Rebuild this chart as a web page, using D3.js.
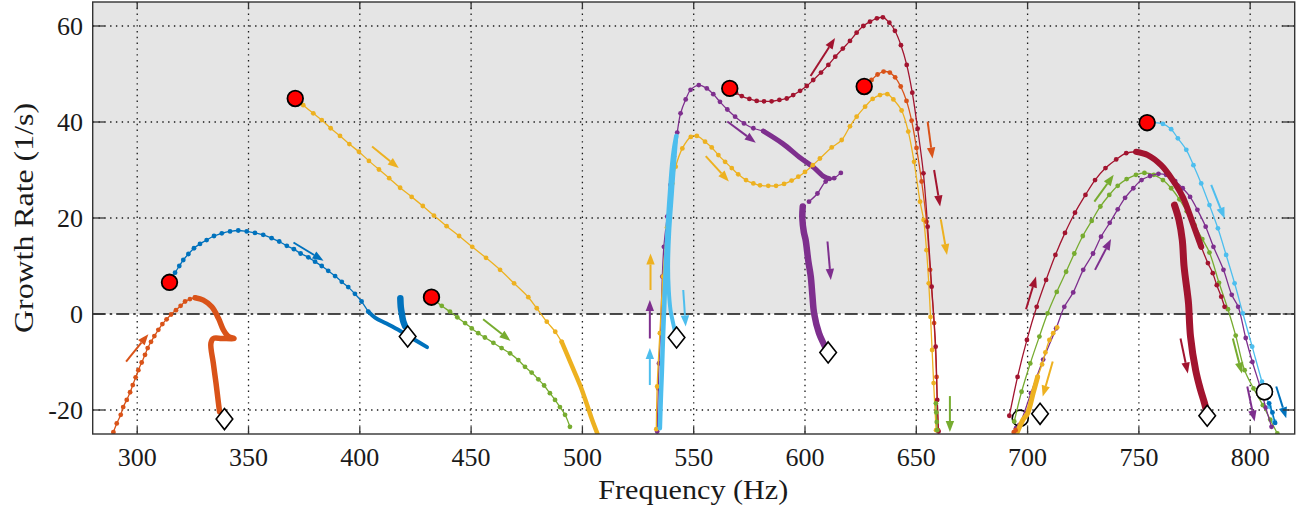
<!DOCTYPE html>
<html><head><meta charset="utf-8">
<script src="https://cdn.jsdelivr.net/npm/d3@7"></script>
<style>
html,body{margin:0;padding:0;background:#fff;}
svg{display:block;}
text{font-family:"Liberation Serif","Times New Roman",serif;fill:#1a1a1a;}
</style></head>
<body><svg id="chart" width="1311" height="510"></svg>
<script>
// ---------- axis ticks ----------
const xTicks = [300, 350, 400, 450, 500, 550, 600, 650, 700, 750, 800];
const yTicks = [-20, 0, 20, 40, 60];
const xLabel = "Frequency (Hz)";
const yLabel = "Growth Rate (1/s)";

// ---------- series (frequency Hz, growth rate 1/s) ----------
// group 1 (290-510 Hz)
const orangeLowRise = [[289.3,-24.6],[290.8,-22.8],[292.6,-21.0],[293.7,-19.4],[295.3,-17.9],[296.8,-16.3],[298,-14.8],[299.3,-13.2],[300.5,-11.7],[302,-10.1],[303.5,-8.5],[304.7,-7.1],[306.2,-5.8],[307.7,-4.6],[309.5,-3.3],[311.3,-2.1],[313.2,-1.1],[315.2,-0.1],[317.4,0.8],[319.5,1.7],[321.5,2.6],[323.7,3.1],[326,3.4]];
const orangeLowDense = [[326,3.4],[329.7,2.9],[333.5,1.5],[336.5,-0.9],[338.7,-3.3],[341,-4.7],[343.5,-5.1],[338,-5.1],[334.2,-5.1],[333.1,-6.1],[334.2,-10.3],[335.4,-14.4],[336.5,-18.6],[337,-20.4]];
const blueLow = [[314.5,6.6],[317,8.6],[318.9,10.0],[320.7,11.25],[323,12.5],[325.5,13.7],[328.2,14.6],[331.2,15.4],[334.5,16.25],[338,16.8],[341.7,17.2],[345.4,17.4],[349.2,17.2],[352.9,16.9],[356.6,16.5],[360.4,15.8],[363.8,15.1],[367.2,14.2],[370.4,13.5],[373.4,12.6],[376.9,11.8],[379.9,10.9],[382.9,10.0],[385.8,9.0],[388.9,7.9],[391.9,6.7],[394.8,5.6],[397.8,4.2],[400.8,2.6],[403.8,0.5]];
const blueLowDense = [[403.8,0.5],[407,-0.8],[412,-2],[418,-3.5],[424,-5.2],[430.2,-6.9]];
const blueLowBlob = [[418.2,3.3],[418.4,1.5],[418.9,0],[419.5,-1.5],[420.4,-2.6]];
const yellowLow = [[371,44.9],[374.6,43.5],[379.1,41.8],[382.9,40.4],[386.9,38.7],[391.1,37.1],[395.3,35.4],[399.6,33.8],[404.1,31.9],[408.6,30.1],[413.2,28.3],[418.1,26.3],[423.3,24.4],[428.3,22.5],[433.3,20.5],[439,18.3],[444.6,16.25],[450.5,14.0],[456.7,11.7],[463,9.2],[469.3,6.4],[475.7,3.5],[479.5,1.2],[484,-1.6],[487.8,-3.7],[490.7,-5.8]];
const yellowLowDense = [[490.7,-5.8],[495,-10.5],[499.2,-15.1],[502,-18.8],[504.4,-22.1],[506.7,-24.9]];
const greenLow = [[432.2,3.5],[436.8,1.7],[440.5,0.5],[443.8,-0.7],[447.3,-1.9],[450.3,-3.0],[453.2,-4.0],[456.2,-4.9],[460,-6.0],[463.7,-7.1],[467.5,-8.2],[471.2,-9.6],[474.2,-11.0],[477.2,-12.2],[480.2,-13.6],[482.8,-14.9],[485.4,-16.5],[487.7,-17.9],[489.9,-19.4],[492.2,-21.0],[494.4,-23.5]];

// group 2 (530-665 Hz)
const purpleMid = [[533.6,-24.5],[534.1,-15.5],[534.4,-10.3],[535.1,-4.0],[535.9,7.8],[536.6,14],[538.1,20.3],[539.6,26.9],[541.1,32.8],[542.6,37.8],[544.1,41.8],[546.4,44.7],[548.6,46.7],[552.3,47.7],[555.9,47.0],[558.8,45.8],[561.8,44.2],[565.1,42.6],[568.6,41.1],[572.6,39.7],[576.8,38.7],[581.3,38.1]];
const purpleMidDense = [[581.3,38.1],[590,35.5],[598,32.5],[604,30.5],[608.6,28.6],[611,28.2]];
const purpleMidHook = [[616.1,29.4],[613.1,28.3],[609.3,27.6],[605.6,25.1],[601.8,23.4]];
const purpleMidDrop = [[599,22.4],[598.8,20],[599.5,17],[600.3,15.4],[601.5,11],[602.6,7.8],[603.3,4],[604.1,0.1],[606.3,-4],[608.5,-6.3],[610.4,-8.0]];
const yellowMid = [[533.2,-24],[533.6,-15.1],[534.8,-4.0],[536.2,7.8],[538,18],[540.4,27.2],[541.9,30.7],[544.9,34.5],[548.7,36.9],[551.4,37.1],[555.1,35.9],[558.1,34.7],[561.1,33.1],[564.1,31.7],[567.1,30.4],[570,29.1],[573.5,27.9],[576.8,27.2],[579.8,26.8],[583.5,26.7],[587,26.7],[590.6,27.1],[594,27.8],[597,28.6],[600,29.6],[603.5,31.0],[606.7,32.4],[612,34.7],[616.5,36.25],[620.2,39.1],[623.2,41.1],[627,43.2],[630.4,44.8],[633.7,45.6],[637,45.8],[639.7,44.7],[643.4,42.4],[646.4,38.0],[649,31.7],[651.7,23.4],[653.3,19.6],[654.6,13.3],[655.6,6.4],[656.4,-0.6],[657.1,-7.5],[657.8,-14.4],[658.9,-24.2]];
const lightBlueMidUp = [[534.8,-23.8],[535.2,-18],[535.7,-12],[536.2,-5],[536.8,2],[537.5,10],[538.3,18],[539.3,25],[540.3,31],[541.2,34.5],[542.2,37.1]];
const lightBlueMidDown = [[542.2,37.1],[541.3,32],[540.2,25],[539,17],[538.5,10],[538.8,5],[539.6,0.8],[540.8,-2.0],[541.8,-4]];
const darkRedMid = [[566.2,47],[569,46.1],[571.6,45.4],[575,44.8],[578.3,44.4],[581.6,44.3],[585,44.3],[588.5,44.6],[591.8,44.9],[594.7,45.6],[597.8,46.5],[600.8,47.5],[603.7,48.75],[607.2,50.3],[610.5,51.9],[613.6,53.6],[617,55.3],[620.2,56.9],[623.2,58.6],[626.2,60.0],[629.2,60.9],[632.3,61.6],[635,61.8],[637.9,60.7],[640.4,59.0],[643.1,56.0],[645.7,51.9],[648.2,46.1],[650.6,38.6],[653.2,29.3],[655.1,18.2],[656.9,5.7],[658.7,-6.8],[659.4,-17.9],[660,-24.5]];
const orangeMid = [[626.6,47.4],[629.9,48.75],[632.6,49.9],[635.3,50.5],[638.1,50.3],[640.5,49.3],[643,47.4],[645.6,44.4],[647.9,40.3],[650.1,34.6],[652.4,27.6],[654.6,19.2],[656.2,9.2],[658,-1.9],[659.1,-13.1],[659.8,-24.2]];
const greenMid = [[658.8,-18.6],[659,-20.5],[659.2,-22.5],[659.4,-24.2]];

// group 3 (690-815 Hz)
const lightBlueHigh = [[753.7,39.85],[760.8,39.6],[764.5,38.5],[767.5,36.6],[771.3,34.2],[774.5,31],[778,27.2],[781.7,22.7],[785.5,17.85],[789.2,12.3],[793,6.4],[796.7,0.15],[800.9,-6.8],[805.3,-14.1],[808.7,-19.3],[810.9,-22.4]];
const darkRedHigh = [[691.8,-21.2],[695.5,-13.1],[699.7,-5.4],[704.1,1.5],[708.3,7.1],[712.5,12.3],[716.8,16.9],[721.3,21.1],[726,24.8],[730.3,27.9],[735,30.4],[739.8,32.2],[744.3,33.5],[748.7,33.8]];
const darkRedHighDense = [[748.7,33.8],[754,33.1],[760,31],[765.2,27.9],[769.7,24.4],[774.2,18.9],[778,14]];
const darkRedHighTail = [[778,14],[781,10.6],[783.2,8.5],[785,6],[787,3.6],[788.5,1.5]];
const darkRedHighBlob = [[766,22.7],[768,19.6],[769.5,15.4],[770.3,9.9],[771.8,4.3],[772.3,2.2],[773.2,-4.7],[775.5,-11.7],[777.5,-15.5],[779.5,-18.6],[780.5,-20.5]];
const greenHigh = [[694,-22.4],[697.3,-16.2],[701.2,-10.3],[705.3,-4.7],[709,0.15],[713.1,4.6],[717.3,8.8],[721,12.6],[724.8,16.25],[728.8,19.4],[732.7,22.4],[736.7,24.8],[740.5,26.7],[744.5,28.1],[748.7,29],[752.5,29.4],[756.7,29],[760.8,27.9],[764.5,26.2],[768.2,23.9],[771.5,21.4],[775,18.5],[778.5,15.6],[781.7,12.8],[786,6.5],[790,1],[793.5,-4.5],[797.5,-11.7],[801.5,-15.5],[805.7,-19],[809,-22],[812.2,-24.9]];
const purpleHigh = [[694.8,-23.8],[696.3,-23.1],[701.5,-16.5],[707,-9.5],[712.8,-3.0],[716.5,1.5],[720.5,4.5],[725,9.2],[729.4,12.6],[733,16.1],[736.9,19],[740.5,21.8],[743.8,24.2],[747.5,26.2],[751.2,27.9],[755,28.75],[758.8,29.2],[762.2,29],[766.3,27.7],[769.7,26.2],[773,24.4],[776.3,21.7],[780,18.2],[783.5,14],[788,9.2],[791.7,4],[794.6,1.5],[798,-5],[801,-10],[804.4,-15.1],[807,-19.5],[809.6,-23.5]];
const yellowHighDense = [[695.5,-24.5],[698,-22],[700,-20.7],[702.5,-16.5],[704.5,-13.1]];
const yellowHigh = [[704.5,-13.1],[706.5,-10.5],[708,-8],[709.8,-5.4],[711.5,-4],[713.3,-2.8]];
const blueHigh = [[808.5,-18.6],[810,-20.5],[811.2,-22.7]];
const orangeHigh = [[693.8,-24.6],[694.6,-24.2]];

// start points, end points, open markers
const startPoints = [[314.5,6.6],[371,44.9],[432.2,3.5],[566.2,47],[626.6,47.4],[753.7,39.85]];
const endPoints = [[339.2,-21.9],[421.5,-4.7],[542.3,-4.9],[610.4,-8.0],[705.6,-20.8],[780.7,-21.2]];
const openPoints = [[696.7,-21.7],[806.4,-16.2]];

// direction arrows [f1, g1, f2, g2]
const arrowsOrange = [[295,-9.9,305,-4.2],[655.1,40.1,657.3,32.4]];
const arrowsBlue = [[370.2,14.9,383.7,11.1],[811.7,-15.1,816.2,-21.7]];
const arrowsYellow = [[405.5,34.9,417.5,30.4],[530.6,5.0,530.6,12.6],[555.4,32.9,565.8,27.6],[661,19.7,663.8,12.3],[711.3,-9.9,706.8,-17.2]];
const arrowsGreen = [[455.4,-1.1,467.7,-5.6],[665.1,-17.1,665.1,-24.6],[730,23.4,738.7,29],[792.2,-5.1,796.3,-12.4]];
const arrowsPurple = [[565.1,40.1,577.9,35.7],[610.1,15.1,611.6,7.1],[530.3,-5.1,530.3,2.9],[730.3,9.2,737.5,15.6],[798.7,-15.1,802,-22.4]];
const arrowsLightBlue = [[530.3,-14.8,530.3,-7.1],[545.3,5,546.4,-2.6],[782.5,26.9,788.5,19.9]];
const arrowsDarkRed = [[602.5,49.6,613.5,57.5],[658,30,660.7,22.4],[699.3,1.0,703.8,7.8],[768.7,-5.1,772,-12.4]];

// ---------- drawing ----------
const C = {blue:"#0072BD", orange:"#D95319", yellow:"#EDB120", purple:"#7E2F8E", green:"#77AC30", lightBlue:"#4DBEEE", darkRed:"#A2142F"};
const L = 92.7, R = 1294.7, T = 2, B = 434;
const svg = d3.select("#chart");
const x = d3.scaleLinear().domain([280, 820]).range([L, R]);
const y = d3.scaleLinear().domain([-25, 65]).range([B, T]);

svg.append("defs").append("clipPath").attr("id","clip")
  .append("rect").attr("x",L).attr("y",T).attr("width",R-L).attr("height",B-T);

svg.append("rect").attr("x",L).attr("y",T).attr("width",R-L).attr("height",B-T).attr("fill","#fff");
svg.append("rect").attr("x",L).attr("y",y(65)).attr("width",R-L).attr("height",y(0)-y(65)).attr("fill","#e5e5e5");

// grid
const grid = svg.append("g");
grid.selectAll("line.gx").data(xTicks).join("line")
  .attr("x1",d=>x(d)).attr("x2",d=>x(d)).attr("y1",T).attr("y2",B)
  .attr("stroke","#1a1a1a").attr("stroke-width",1.3).attr("stroke-dasharray","1.4,4.4");
grid.selectAll("line.gy").data(yTicks.filter(v=>v!==0)).join("line")
  .attr("x1",L).attr("x2",R).attr("y1",d=>y(d)).attr("y2",d=>y(d))
  .attr("stroke","#1a1a1a").attr("stroke-width",1.3).attr("stroke-dasharray","1.4,4.4");
svg.append("line").attr("x1",L).attr("x2",R).attr("y1",y(0)).attr("y2",y(0))
  .attr("stroke","#111").attr("stroke-width",1.6).attr("stroke-dasharray","13,4,2.5,4");

const plot = svg.append("g").attr("clip-path","url(#clip)");
const line = d3.line().x(d=>x(d[0])).y(d=>y(d[1])).curve(d3.curveCatmullRom.alpha(0.5));

function dotted(data, color){
  plot.append("path").attr("d",line(data)).attr("fill","none").attr("stroke",color).attr("stroke-width",1.3);
  plot.append("g").selectAll("circle").data(data).join("circle")
    .attr("cx",d=>x(d[0])).attr("cy",d=>y(d[1])).attr("r",2.4).attr("fill",color);
}
function dense(data, color, w){
  plot.append("path").attr("d",line(data)).attr("fill","none").attr("stroke",color)
    .attr("stroke-width",w).attr("stroke-linecap","round").attr("stroke-linejoin","round");
}

plot.selectAll("circle.open").data(openPoints).join("circle")
  .attr("cx",d=>x(d[0])).attr("cy",d=>y(d[1])).attr("r",8).attr("fill","#fff")
  .attr("stroke","#000").attr("stroke-width",1.6);

// group 1
dotted(orangeLowRise, C.orange); dense(orangeLowDense, C.orange, 5.5);
dotted(blueLow, C.blue); dense(blueLowDense, C.blue, 4); dense(blueLowBlob, C.blue, 6.5);
dotted(yellowLow, C.yellow); dense(yellowLowDense, C.yellow, 4.5);
dotted(greenLow, C.green);
// group 2
dotted(purpleMid, C.purple); dense(purpleMidDense, C.purple, 5); dotted(purpleMidHook, C.purple); dense(purpleMidDrop, C.purple, 6.5);
dotted(yellowMid, C.yellow);
dotted(orangeMid, C.orange);
dotted(darkRedMid, C.darkRed);
dense(lightBlueMidUp, C.lightBlue, 4.5); dense(lightBlueMidDown, C.lightBlue, 4);
dotted(greenMid, C.green);
// group 3
dotted(greenHigh, C.green);
dotted(purpleHigh, C.purple);
dotted(lightBlueHigh, C.lightBlue);
dotted(darkRedHigh, C.darkRed); dense(darkRedHighDense, C.darkRed, 6); dotted(darkRedHighTail, C.darkRed); dense(darkRedHighBlob, C.darkRed, 7);
dense(yellowHighDense, C.yellow, 5); dotted(yellowHigh, C.yellow);
dotted(blueHigh, C.blue); dotted(orangeHigh, C.orange);

plot.append("circle").attr("cx",x(openPoints[1][0])).attr("cy",y(openPoints[1][1])).attr("r",8)
  .attr("fill","#fff").attr("stroke","#000").attr("stroke-width",1.6);

// arrows
function arrows(list, color){
  list.forEach(a=>{
    const x1=x(a[0]), y1=y(a[1]), x2=x(a[2]), y2=y(a[3]);
    const ang=Math.atan2(y2-y1,x2-x1), hl=11, hw=4.2;
    const bx=x2-hl*Math.cos(ang), by=y2-hl*Math.sin(ang);
    plot.append("line").attr("x1",x1).attr("y1",y1).attr("x2",bx).attr("y2",by)
      .attr("stroke",color).attr("stroke-width",2);
    const px=-Math.sin(ang)*hw, py=Math.cos(ang)*hw;
    plot.append("path").attr("d",`M${x2},${y2}L${bx+px},${by+py}L${bx-px},${by-py}Z`).attr("fill",color);
  });
}
arrows(arrowsOrange,C.orange); arrows(arrowsBlue,C.blue); arrows(arrowsYellow,C.yellow);
arrows(arrowsGreen,C.green); arrows(arrowsPurple,C.purple); arrows(arrowsLightBlue,C.lightBlue);
arrows(arrowsDarkRed,C.darkRed);

plot.selectAll("circle.start").data(startPoints).join("circle")
  .attr("cx",d=>x(d[0])).attr("cy",d=>y(d[1])).attr("r",7.8).attr("fill","#ff0000")
  .attr("stroke","#000").attr("stroke-width",1.8);
plot.selectAll("path.end").data(endPoints).join("path")
  .attr("d",d=>{const cx=x(d[0]), cy=y(d[1]); return `M${cx},${cy-10.5}L${cx+8.3},${cy}L${cx},${cy+10.5}L${cx-8.3},${cy}Z`;})
  .attr("fill","#fff").attr("stroke","#000").attr("stroke-width",1.6);

// frame + inward ticks
const axc="#333";
svg.append("rect").attr("x",L).attr("y",T).attr("width",R-L).attr("height",B-T)
  .attr("fill","none").attr("stroke",axc).attr("stroke-width",1.4);
const tk = svg.append("g").attr("stroke",axc).attr("stroke-width",1.3);
xTicks.forEach(v=>{
  tk.append("line").attr("x1",x(v)).attr("x2",x(v)).attr("y1",B).attr("y2",B-7);
  tk.append("line").attr("x1",x(v)).attr("x2",x(v)).attr("y1",T).attr("y2",T+7);
});
yTicks.forEach(v=>{
  tk.append("line").attr("x1",L).attr("x2",L+12).attr("y1",y(v)).attr("y2",y(v));
  tk.append("line").attr("x1",R).attr("x2",R-12).attr("y1",y(v)).attr("y2",y(v));
});

// tick labels
svg.append("g").selectAll("text").data(xTicks).join("text")
  .attr("x",d=>x(d)).attr("y",466).attr("text-anchor","middle").attr("font-size",26).text(d=>d);
svg.append("g").selectAll("text").data(yTicks).join("text")
  .attr("x",83).attr("y",d=>y(d)+9).attr("text-anchor","end").attr("font-size",26).text(d=>d);
// axis labels
svg.append("text").attr("x",693.3).attr("y",499).attr("text-anchor","middle").attr("font-size",27)
  .attr("textLength",190).attr("lengthAdjust","spacingAndGlyphs").text(xLabel);
svg.append("text").attr("transform",`translate(33,${(T+B)/2}) rotate(-90)`).attr("text-anchor","middle").attr("font-size",27)
  .attr("textLength",230).attr("lengthAdjust","spacingAndGlyphs").text(yLabel);
</script></body></html>
